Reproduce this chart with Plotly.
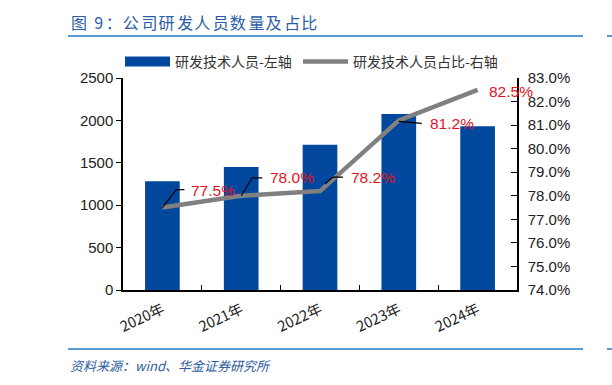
import plotly.graph_objects as go

# ---------------- data ----------------
categories = ["2020年", "2021年", "2022年", "2023年", "2024年"]
staff_count = [1283, 1449, 1712, 2075, 1930]          # 研发技术人员 (left axis)
staff_ratio = [77.5, 78.0, 78.2, 81.2, 82.5]          # 研发技术人员占比 % (right axis)

bar_name = "研发技术人员-左轴"
line_name = "研发技术人员占比-右轴"
title_text = "图 9：公司研发人员数量及占比"
source_text = "资料来源：wind、华金证券研究所"

# ---------------- style ----------------
W, H = 612, 385
L, R, T, B = 123, 95, 78, 95
PW, PH = W - L - R, H - T - B
FONT = "Liberation Sans, Arial, Noto Sans CJK SC, sans-serif"
CJK = "Noto Sans CJK SC, Liberation Sans, sans-serif"
BAR_COLOR = "#00479D"
LINE_COLOR = "#808080"
LABEL_COLOR = "#E0141E"
ACCENT = "#5B9BD5"
TITLE_COLOR = "#2A5DA6"

# label offsets (pixels) and leader paths (pixel offsets, y up)
label_shift = [(27, 17), (27, 18), (29, 14), (29, -3), (9, -2)]
leader_paths = ["M0,0 L14,18 L22,18", "M0,0 L11,18 L21,18",
                "M5,7 L13,14 L23,14", "M0,-1 L23,-3", None]


def px(x):
    return (x - L) / PW


def py(y):
    return (H - B - y) / PH


fig = go.Figure()

fig.add_trace(go.Bar(
    x=categories, y=staff_count, name=bar_name, marker_color=BAR_COLOR,
    marker_line_width=0, width=0.44, showlegend=False, yaxis="y"))

# legend proxy for the bar series (wide block look)
fig.add_trace(go.Scatter(
    x=[None], y=[None], mode="lines", name=bar_name,
    line=dict(color=BAR_COLOR, width=12), yaxis="y", legend="legend"))

fig.add_trace(go.Scatter(
    x=categories, y=staff_ratio, mode="lines", name=line_name,
    line=dict(color=LINE_COLOR, width=4.5), yaxis="y2", legend="legend2"))

annotations = []
shapes = []
for cat, v, (dx, dy), path in zip(categories, staff_ratio, label_shift, leader_paths):
    annotations.append(dict(
        x=cat, y=v, xref="x", yref="y2", text=f"{v:.1f}%", showarrow=False,
        xanchor="left", yanchor="middle", xshift=dx, yshift=dy,
        font=dict(family=FONT, size=15.5, color=LABEL_COLOR)))
    if path:
        shapes.append(dict(
            type="path", xref="x", yref="y2", xsizemode="pixel", ysizemode="pixel",
            xanchor=cat, yanchor=v, path=path,
            line=dict(color="black", width=1.2)))

# title (slightly letter-spaced)
spaced_title = title_text[0]
for i, ch in enumerate(title_text[1:]):
    spaced_title += ("\u2006" if i % 2 == 0 else "\u200a") + ch
annotations.append(dict(
    x=px(69), y=py(22), xref="paper", yref="paper", text=spaced_title,
    showarrow=False, xanchor="left", yanchor="middle",
    font=dict(family=CJK, size=16, color=TITLE_COLOR)))
# source
annotations.append(dict(
    x=px(68), y=py(365), xref="paper", yref="paper", text=source_text,
    showarrow=False, xanchor="left", yanchor="middle",
    font=dict(family=CJK, size=13, color="#2E5C9E", style="italic")))

# separator lines
for yy in (36, 349):
    shapes.append(dict(type="line", xref="paper", yref="paper",
                       x0=px(68), x1=px(583), y0=py(yy), y1=py(yy),
                       line=dict(color=ACCENT, width=2)))
    shapes.append(dict(type="line", xref="paper", yref="paper",
                       x0=px(607), x1=px(612), y0=py(yy), y1=py(yy),
                       line=dict(color=ACCENT, width=2)))

legend_common = dict(orientation="h", yanchor="middle", y=py(62), xanchor="left",
                     font=dict(family=CJK, size=14, color="#333333"),
                     itemwidth=45, bgcolor="rgba(0,0,0,0)")

fig.update_layout(
    width=W, height=H,
    margin=dict(l=L, r=R, t=T, b=B, autoexpand=False),
    paper_bgcolor="white", plot_bgcolor="white",
    font=dict(family=FONT, color="#222222"),
    showlegend=True,
    legend=dict(x=px(120), **legend_common),
    legend2=dict(x=px(298), **legend_common),
    xaxis=dict(type="category", range=[-0.5, 4.5], autorange=False,
               showline=True, linecolor="black", linewidth=1.5,
               ticks="inside", tickson="boundaries", ticklen=5, tickcolor="black",
               tickangle=-25, ticklabelstandoff=4,
               tickfont=dict(family=CJK, size=14.5, color="#222222"),
               showgrid=False, zeroline=False),
    yaxis=dict(range=[0, 2500], dtick=500, showline=True, linecolor="black", linewidth=1.5,
               ticks="outside", ticklen=5, tickcolor="black", showgrid=False, zeroline=False,
               tickfont=dict(family=FONT, size=15, color="#222222")),
    yaxis2=dict(range=[74, 83], dtick=1, overlaying="y", side="right", tickformat=".1f",
                ticksuffix="%", showline=True, linecolor="black", linewidth=1.5,
                ticks="inside", ticklen=6, tickcolor="black", showgrid=False, zeroline=False,
                ticklabelstandoff=6,
                tickfont=dict(family=FONT, size=15, color="#222222")),
    annotations=annotations,
    shapes=shapes,
)

fig.write_html("out.html", config={"displayModeBar": False},
               post_script="document.body.style.margin='0';document.body.style.padding='0';")
